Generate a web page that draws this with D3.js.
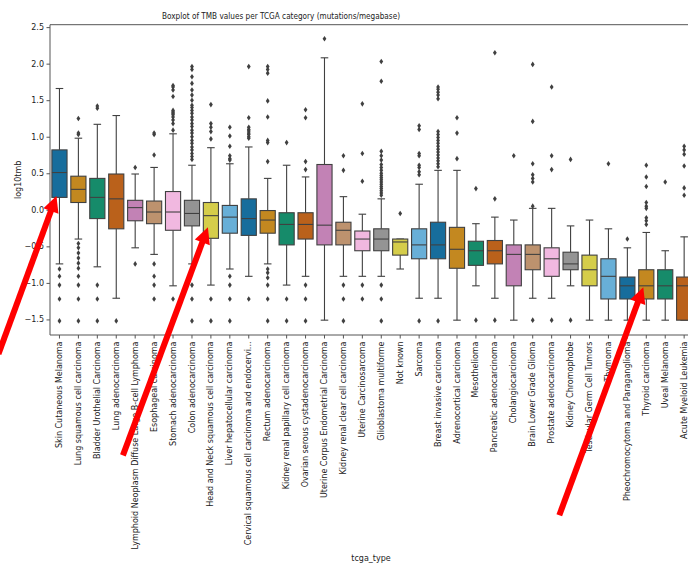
<!DOCTYPE html>
<html>
<head>
<meta charset="utf-8">
<script src="https://cdn.jsdelivr.net/npm/d3@7"></script>
<style>
  html, body { margin: 0; padding: 0; background: #fff; }
  svg { display: block; font-family: "DejaVu Sans", sans-serif; }
</style>
</head>
<body>
<svg id="chart" width="688" height="565"></svg>
<script>
// TCGA cancer types, ordered by median TMB
const categories = [
  "Skin Cutaneous Melanoma", "Lung squamous cell carcinoma", "Bladder Urothelial Carcinoma",
  "Lung adenocarcinoma", "Lymphoid Neoplasm Diffuse Large B-cell Lymphoma", "Esophageal carcinoma",
  "Stomach adenocarcinoma", "Colon adenocarcinoma", "Head and Neck squamous cell carcinoma",
  "Liver hepatocellular carcinoma", "Cervical squamous cell carcinoma and endocervi...",
  "Rectum adenocarcinoma", "Kidney renal papillary cell carcinoma", "Ovarian serous cystadenocarcinoma",
  "Uterine Corpus Endometrial Carcinoma", "Kidney renal clear cell carcinoma", "Uterine Carcinosarcoma",
  "Glioblastoma multiforme", "Not known", "Sarcoma", "Breast invasive carcinoma",
  "Adrenocortical carcinoma", "Mesothelioma", "Pancreatic adenocarcinoma", "Cholangiocarcinoma",
  "Brain Lower Grade Glioma", "Prostate adenocarcinoma", "Kidney Chromophobe",
  "Testicular Germ Cell Tumors", "Thymoma", "Pheochromocytoma and Paraganglioma",
  "Thyroid carcinoma", "Uveal Melanoma", "Acute Myeloid Leukemia"
];

// log10(TMB) box statistics per category
const whiskerLow = [-0.74, -0.40, -0.78, -1.21, -0.52, -0.61, -1.04, -0.74, -1.03, -0.81, -0.91, -0.74,
  -1.03, -0.91, -1.51, -0.91, -0.91, -0.91, -0.81, -1.21, -1.21, -1.51, -1.04, -1.21, -1.51, -1.21,
  -1.21, -1.04, -1.51, -1.51, -1.51, -1.51, -1.51, -1.51];
const q1 = [0.17, 0.10, -0.12, -0.26, -0.15, -0.19, -0.28, -0.22, -0.39, -0.32, -0.35, -0.32,
  -0.48, -0.40, -0.48, -0.48, -0.56, -0.56, -0.62, -0.67, -0.67, -0.80, -0.76, -0.74, -1.04, -0.82,
  -0.91, -0.82, -1.04, -1.22, -1.22, -1.22, -1.22, -1.51];
const median = [0.51, 0.28, 0.17, 0.15, 0.03, -0.03, -0.03, -0.05, -0.08, -0.10, -0.12, -0.14,
  -0.20, -0.20, -0.21, -0.28, -0.40, -0.40, -0.44, -0.48, -0.48, -0.54, -0.56, -0.56, -0.61, -0.61,
  -0.67, -0.74, -0.82, -0.91, -1.04, -1.04, -1.04, -1.04];
const q3 = [0.82, 0.46, 0.43, 0.49, 0.13, 0.12, 0.25, 0.13, 0.10, 0.06, 0.15, -0.01,
  -0.04, -0.04, 0.62, -0.17, -0.29, -0.26, -0.40, -0.26, -0.17, -0.24, -0.43, -0.42, -0.48, -0.48,
  -0.52, -0.58, -0.62, -0.67, -0.92, -0.82, -0.82, -0.92];
const whiskerHigh = [1.66, 0.98, 1.17, 1.29, 0.49, 0.58, 1.04, 0.61, 0.85, 0.63, 0.86, 0.43,
  0.61, 0.45, 2.08, 0.18, -0.06, 0.15, -0.40, 0.35, 0.54, 0.54, -0.19, -0.10, -0.14, 0.02,
  0.02, -0.22, -0.14, -0.26, -0.52, -0.31, -0.56, -0.37];
const outliers = [
  [-0.81, -0.91, -1.03, -1.22, -1.52],
  [1.03, 1.05, 1.25, -0.46, -0.52, -0.59, -0.66, -0.73, -0.80, -0.91, -1.03, -1.22, -1.52],
  [1.39, 1.42, -1.03, -1.22, -1.52],
  [-1.52],
  [0.58, -0.74],
  [0.75, 1.03, 1.05, -0.74, -0.91, -1.03, -1.22],
  [1.09, 1.18, 1.23, 1.27, 1.30, 1.32, 1.34, 1.36, 1.55, 1.64, 1.68, 1.70, -1.22],
  [0.69, 0.73, 0.77, 0.82, 0.86, 0.91, 0.95, 1.00, 1.05, 1.09, 1.14, 1.18, 1.23, 1.27, 1.32, 1.36,
   1.40, 1.43, 1.50, 1.57, 1.64, 1.73, 1.82, 1.92, 1.96, -1.03, -1.22, -1.52],
  [0.97, 1.07, 1.13, 1.18, 1.44, -1.22, -1.52],
  [0.68, 0.70, 0.74, 0.87, 1.01, 1.13, -0.91, -1.03, -1.22, -1.52],
  [0.98, 1.00, 1.03, 1.05, 1.08, 1.10, 1.13, 1.26, 1.96, -1.22],
  [0.66, 0.92, 0.95, 1.27, 1.49, 1.87, 1.92, 1.96, -0.81, -0.86, -0.93, -1.03, -1.22, -1.52],
  [0.92, -1.22, -1.52],
  [0.55, 0.66, 1.26, 1.37, -1.03, -1.22, -1.52],
  [2.34],
  [0.54, 0.74, -1.03, -1.22, -1.52],
  [0.39, 0.77, 1.45, -1.03, -1.22],
  [0.20, 0.23, 0.26, 0.29, 0.32, 0.35, 0.38, 0.41, 0.44, 0.47, 0.50, 0.54, 0.58, 0.62, 0.68, 0.74,
   0.80, 1.76, 2.03, -1.03, -1.22, -1.52],
  [-0.05],
  [0.48, 0.52, 0.58, 0.61, 0.74, 0.77, 1.10, 1.15, -1.52],
  [0.59, 0.63, 0.67, 0.71, 0.75, 0.79, 0.83, 0.87, 0.91, 0.95, 0.99, 1.03, 1.07, 1.52, 1.57, 1.61,
   1.65, 1.68, -1.52],
  [0.70, 1.05, 1.26],
  [0.29, -1.51],
  [0.15, 2.15, -1.51],
  [0.74],
  [0.05, 0.38, 0.43, 0.48, 0.63, 1.21, 1.99, -1.51],
  [0.55, 0.74, 1.68, -1.51],
  [0.69, -1.51],
  [],
  [0.63],
  [-0.40],
  [-0.20, -0.15, -0.11, 0.02, 0.05, 0.10, 0.32, 0.45, 0.61],
  [0.38],
  [0.20, 0.30, 0.60, 0.76, 0.82, 0.87]
];

const yTicks = [-1.5, -1.0, -0.5, 0.0, 0.5, 1.0, 1.5, 2.0, 2.5];

// colorblind palette, desaturated as seaborn draws box faces
const palette = ["#176d9c", "#c38820", "#168b6a", "#ba611b", "#c282b5",
                 "#bd926e", "#f1b8e0", "#949494", "#d5cd4a", "#68afd7"];

// highlighted boxes: [category index, log10tmb the arrow points at, tail offset dx, dy]
const arrowTargets = [[0, 0.19, -58, 158], [8, -0.24, -85, 228], [31, -1.06, -84, 228]];

const svg = d3.select("#chart");
const margin = { left: 50, top: 24.7, bottom: 335 };
const band = 18.93;
const plotRight = margin.left + band * categories.length;

const x = d3.scaleBand().domain(categories).range([margin.left, plotRight]).padding(0);
const y = d3.scaleLinear().domain([-1.713, 2.533]).range([margin.bottom, margin.top]);

const lineColor = "#404040";
const textColor = "#222";
const boxW = x.bandwidth() * 0.8;
const capW = boxW * 0.5;

// boxes
const g = svg.append("g");
categories.forEach((c, i) => {
  const cx = x(c) + x.bandwidth() / 2;
  const grp = g.append("g");
  // whiskers
  grp.append("line").attr("x1", cx).attr("x2", cx)
    .attr("y1", y(q3[i])).attr("y2", y(whiskerHigh[i]))
    .attr("stroke", lineColor).attr("stroke-width", 1.1);
  grp.append("line").attr("x1", cx).attr("x2", cx)
    .attr("y1", y(q1[i])).attr("y2", y(whiskerLow[i]))
    .attr("stroke", lineColor).attr("stroke-width", 1.1);
  // caps
  [whiskerHigh[i], whiskerLow[i]].forEach(v => {
    grp.append("line").attr("x1", cx - capW / 2).attr("x2", cx + capW / 2)
      .attr("y1", y(v)).attr("y2", y(v))
      .attr("stroke", lineColor).attr("stroke-width", 1.1);
  });
  // box
  grp.append("rect")
    .attr("x", cx - boxW / 2).attr("width", boxW)
    .attr("y", y(q3[i])).attr("height", Math.max(0.5, y(q1[i]) - y(q3[i])))
    .attr("fill", palette[i % palette.length])
    .attr("stroke", lineColor).attr("stroke-width", 1.1);
  // median
  grp.append("line").attr("x1", cx - boxW / 2).attr("x2", cx + boxW / 2)
    .attr("y1", y(median[i])).attr("y2", y(median[i]))
    .attr("stroke", lineColor).attr("stroke-width", 1.1);
  // fliers (thin diamonds)
  grp.selectAll("path.flier").data(outliers[i]).enter().append("path")
    .attr("class", "flier")
    .attr("d", v => {
      const py = y(v);
      return `M${cx},${py - 2.8}L${cx + 1.9},${py}L${cx},${py + 2.8}L${cx - 1.9},${py}Z`;
    })
    .attr("fill", lineColor);
});

// axes
const yAxis = d3.axisLeft(y).tickValues(yTicks).tickFormat(d3.format(".1f")).tickSize(3.5).tickPadding(2.5);
const yg = svg.append("g").attr("transform", `translate(${margin.left},0)`).call(yAxis);
yg.select(".domain").remove();
yg.selectAll(".tick line").attr("stroke", "#555");
yg.selectAll(".tick text").attr("font-size", 8).attr("fill", textColor)
  .style("font-family", "DejaVu Sans");

const xAxis = d3.axisBottom(x).tickSize(3.5).tickPadding(0);
const xg = svg.append("g").attr("transform", `translate(0,${margin.bottom})`).call(xAxis);
xg.select(".domain").remove();
xg.selectAll(".tick line").attr("stroke", "#555");
xg.selectAll(".tick text")
  .attr("font-size", 8).attr("fill", textColor)
  .style("font-family", "DejaVu Sans")
  .attr("text-anchor", "end")
  .attr("dy", "0.32em")
  .attr("transform", "translate(0,6.5) rotate(-90)")
  .attr("x", 0).attr("y", 0);

// frame
const frame = [[margin.left, margin.top, margin.left, margin.bottom],
               [margin.left, margin.top, plotRight, margin.top],
               [margin.left, margin.bottom, plotRight, margin.bottom],
               [plotRight, margin.top, plotRight, margin.bottom]];
frame.forEach(([x1, y1, x2, y2]) => {
  svg.append("line").attr("x1", x1).attr("y1", y1).attr("x2", x2).attr("y2", y2)
    .attr("stroke", "#555").attr("stroke-width", 1);
});

// title and axis labels
svg.append("text").attr("x", 281).attr("y", 19).attr("text-anchor", "middle")
  .attr("font-size", 9).attr("fill", textColor)
  .attr("textLength", 238).attr("lengthAdjust", "spacingAndGlyphs")
  .text("Boxplot of TMB values per TCGA category (mutations/megabase)");
svg.append("text").attr("x", 371).attr("y", 561).attr("text-anchor", "middle")
  .attr("font-size", 8).attr("fill", textColor).text("tcga_type");
svg.append("text").attr("transform", `translate(21,${(margin.top + margin.bottom) / 2}) rotate(-90)`)
  .attr("text-anchor", "middle").attr("font-size", 8).attr("fill", textColor).text("log10tmb");

// red pointer arrows
const arrows = svg.append("g");
arrowTargets.forEach(([idx, v, dx, dy]) => {
  const tx = x(categories[idx]) + x.bandwidth() / 2 - 3;
  const ty = y(v);
  const sx = tx + dx, sy = ty + dy;
  const len = Math.hypot(tx - sx, ty - sy);
  const ux = (tx - sx) / len, uy = (ty - sy) / len;
  const headL = 16, headW = 8;
  const bx = tx - ux * headL, by = ty - uy * headL;
  arrows.append("line").attr("x1", sx).attr("y1", sy).attr("x2", bx + ux * 2).attr("y2", by + uy * 2)
    .attr("stroke", "#ff0000").attr("stroke-width", 6);
  arrows.append("path")
    .attr("d", `M${tx},${ty}L${bx - uy * headW},${by + ux * headW}L${bx + uy * headW},${by - ux * headW}Z`)
    .attr("fill", "#ff0000");
});
</script>
</body>
</html>
